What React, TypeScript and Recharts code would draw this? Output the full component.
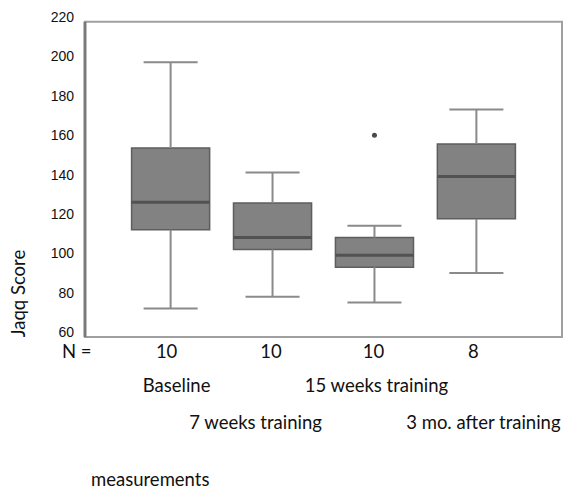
import React from 'react';
import {
  ComposedChart,
  XAxis,
  YAxis,
  ReferenceArea,
  ReferenceLine,
  Scatter,
  Customized,
} from 'recharts';

// ---- data ----
const categories = ['Baseline', '7 weeks training', '15 weeks training', '3 mo. after training'];
const positions = [1, 2, 3, 4];
const nCounts = ['10', '10', '10', '8'];
const whiskerLow = [72, 78, 75, 90];
const q1Values = [112, 102, 93, 117.5];
const medians = [126, 108, 99, 139];
const q3Values = [153.5, 125.5, 108, 155.5];
const whiskerHigh = [197, 141, 114, 173];
const outlierPositions = [3];
const outlierValues = [160];
const yTicks = [60, 80, 100, 120, 140, 160, 180, 200, 220];

const outlierData = outlierPositions.map((p, i) => ({ x: p, y: outlierValues[i] }));

// ---- style ----
const X_DOMAIN: [number, number] = [0.16, 4.84];
const Y_DOMAIN: [number, number] = [55, 222];
const FRAME_LOW = 57.6;
const FRAME_HIGH = 217.5;
const BOX_HALF = 0.383;
const CAP_HALF = 0.265;
const BOX_FILL = '#828282';
const BOX_STROKE = '#5e5e5e';
const WHISKER = '#8a8a8a';
const LABEL_FONT = 'Lato, "Open Sans", sans-serif';
const LABEL_SIZE = 18.5;
const labelDx = [6, -17, 2, 7];
const nDx = [-4, -1.5, -1, -3];
const labelRow = [0, 1, 0, 1];

const BottomTick = (props: any) => {
  const { x, y, payload } = props;
  const i = positions.indexOf(payload.value);
  if (i < 0) return null;
  return (
    <g>
      <text x={x + nDx[i]} y={y + 16} textAnchor="middle" fontFamily={LABEL_FONT} fontSize={LABEL_SIZE} fill="#111">
        {nCounts[i]}
      </text>
      <text
        x={x + labelDx[i]}
        y={y + (labelRow[i] === 0 ? 50 : 87)}
        textAnchor="middle"
        fontFamily={LABEL_FONT}
        fontSize={LABEL_SIZE}
        fill="#111"
      >
        {categories[i]}
      </text>
    </g>
  );
};

const Overlay = () => (
  <g>
    <text x={62} y={358} fontFamily={LABEL_FONT} fontSize={LABEL_SIZE} fill="#111">
      N =
    </text>
    <text x={91} y={486} fontFamily={LABEL_FONT} fontSize={LABEL_SIZE} fill="#111">
      measurements
    </text>
    <text
      x={25}
      y={293.5}
      transform="rotate(-90, 25, 293.5)"
      textAnchor="middle"
      fontFamily={LABEL_FONT}
      fontSize={LABEL_SIZE}
      fill="#111"
    >
      Jaqq Score
    </text>
  </g>
);

export default function App() {
  return (
    <div style={{ position: 'absolute', left: 0, top: 0, background: '#fff' }}>
      <ComposedChart
        width={565}
        height={491}
        margin={{ top: 13, right: 3, bottom: 29, left: 0 }}
      >
        <XAxis
          dataKey="x"
          type="number"
          domain={X_DOMAIN}
          ticks={positions}
          axisLine={false}
          tickLine={false}
          tickSize={0}
          tickMargin={0}
          height={120}
          interval={0}
          tick={<BottomTick />}
        />
        <YAxis
          type="number"
          domain={Y_DOMAIN}
          ticks={yTicks}
          allowDataOverflow
          width={85}
          axisLine={false}
          tickLine={false}
          tickMargin={5}
          tick={{ fontFamily: '"Liberation Sans", Arial, sans-serif', fontSize: 14, fill: '#111' }}
        />
        {/* frame */}
        <ReferenceArea
          x1={X_DOMAIN[0]}
          x2={X_DOMAIN[1]}
          y1={FRAME_LOW}
          y2={FRAME_HIGH}
          fill="none"
          stroke="#a0a0a0"
          strokeWidth={2}
          ifOverflow="visible"
        />
        <ReferenceLine
          segment={[
            { x: X_DOMAIN[0], y: FRAME_LOW },
            { x: X_DOMAIN[0], y: FRAME_HIGH },
          ]}
          stroke="#7a7a7a"
          strokeWidth={3}
          ifOverflow="visible"
        />
        {/* whiskers */}
        {positions.map((p, i) => (
          <ReferenceLine
            key={`wu${i}`}
            segment={[
              { x: p, y: q3Values[i] },
              { x: p, y: whiskerHigh[i] },
            ]}
            stroke={WHISKER}
            strokeWidth={2}
          />
        ))}
        {positions.map((p, i) => (
          <ReferenceLine
            key={`wl${i}`}
            segment={[
              { x: p, y: whiskerLow[i] },
              { x: p, y: q1Values[i] },
            ]}
            stroke={WHISKER}
            strokeWidth={2}
          />
        ))}
        {positions.map((p, i) => (
          <ReferenceLine
            key={`cu${i}`}
            segment={[
              { x: p - CAP_HALF, y: whiskerHigh[i] },
              { x: p + CAP_HALF, y: whiskerHigh[i] },
            ]}
            stroke={WHISKER}
            strokeWidth={2}
          />
        ))}
        {positions.map((p, i) => (
          <ReferenceLine
            key={`cl${i}`}
            segment={[
              { x: p - CAP_HALF, y: whiskerLow[i] },
              { x: p + CAP_HALF, y: whiskerLow[i] },
            ]}
            stroke={WHISKER}
            strokeWidth={2}
          />
        ))}
        {/* boxes */}
        {positions.map((p, i) => (
          <ReferenceArea
            key={`b${i}`}
            x1={p - BOX_HALF}
            x2={p + BOX_HALF}
            y1={q1Values[i]}
            y2={q3Values[i]}
            fill={BOX_FILL}
            fillOpacity={1}
            stroke={BOX_STROKE}
            strokeWidth={1.5}
          />
        ))}
        {/* medians */}
        {positions.map((p, i) => (
          <ReferenceLine
            key={`m${i}`}
            segment={[
              { x: p - BOX_HALF, y: medians[i] },
              { x: p + BOX_HALF, y: medians[i] },
            ]}
            stroke="#525252"
            strokeWidth={3}
          />
        ))}
        <Scatter
          data={outlierData}
          dataKey="y"
          fill="#4a4a4a"
          isAnimationActive={false}
          shape={(props: any) => <circle cx={props.cx} cy={props.cy} r={2.5} fill="#4a4a4a" />}
        />
        <Customized component={Overlay} />
      </ComposedChart>
    </div>
  );
}
